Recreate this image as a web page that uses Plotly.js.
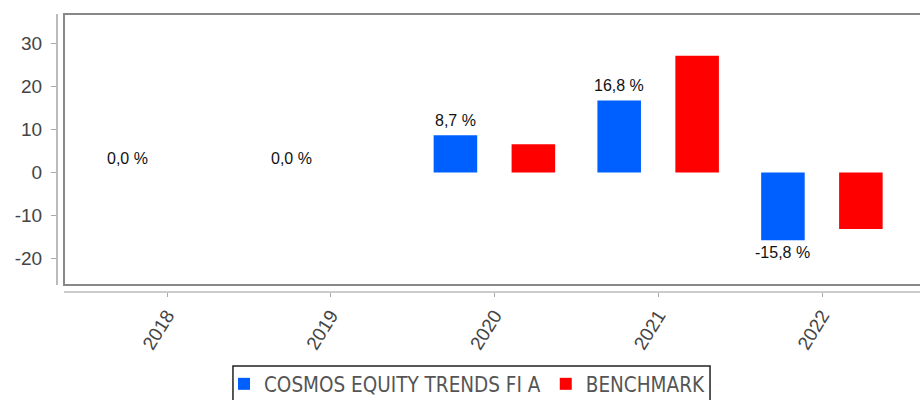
<!DOCTYPE html>
<html><head><meta charset="utf-8">
<script src="https://cdn.plot.ly/plotly-3.0.1.min.js"></script>
<style>html,body{margin:0;padding:0;background:#fff}#chart{width:920px;height:400px}</style>
</head><body><div id="chart"></div>
<script>
const years = ['2018', '2019', '2020', '2021', '2022'];
const fundValues = [0.0, 0.0, 8.7, 16.8, -15.8];
const benchmarkValues = [null, null, 6.6, 27.2, -13.2];
const fundName = 'COSMOS EQUITY TRENDS FI A';
const benchmarkName = 'BENCHMARK';
const yTickVals = [-20, -10, 0, 10, 20, 30];
const yTickText = ['-20', '-10', '0', '10', '20', '30'];

const fmt = v => v.toFixed(1).replace('.', ',') + ' %';
const barWidth = 0.266, fundOffset = -0.372, benchOffset = 0.104;

const traces = [
  {type: 'bar', name: fundName, x: years, y: fundValues,
   marker: {color: '#0060ff'}, width: barWidth, offset: fundOffset},
  {type: 'bar', name: benchmarkName, x: years, y: benchmarkValues,
   marker: {color: '#ff0000'}, width: barWidth, offset: benchOffset}
];

const labelFont = {family: 'Liberation Sans, Arial, sans-serif', size: 16, color: '#111'};
const annotations = fundValues.map((v, i) => ({
  x: i + fundOffset + barWidth / 2, y: v, xref: 'x', yref: 'y',
  text: fmt(v), showarrow: false,
  yanchor: v < 0 ? 'top' : 'bottom', yshift: v < 0 ? -2 : 4,
  font: labelFont
}));

const tickFont = {family: 'Liberation Sans, Arial, sans-serif', size: 19, color: '#444'};

const layout = {
  width: 920, height: 400,
  margin: {l: 57, r: 0, t: 14, b: 108, autoexpand: false},
  paper_bgcolor: '#fff', plot_bgcolor: '#fff',
  showlegend: true,
  barmode: 'group',
  xaxis: {type: 'category', range: [-0.672, 4.598], showline: false, showgrid: false, zeroline: false,
          ticks: 'outside', ticklen: 4, tickcolor: '#aaa', tickangle: -58, tickfont: tickFont},
  yaxis: {range: [-27.86, 36.95], showline: false, showgrid: false, zeroline: false,
          tickvals: yTickVals, ticktext: yTickText,
          ticks: 'outside', ticklen: 5, tickcolor: '#aaa', ticklabelstandoff: 5, tickfont: tickFont},
  legend: {orientation: 'h', x: 0.1935, xanchor: 'left', y: -0.259, yanchor: 'top',
           borderwidth: 0, bgcolor: 'rgba(0,0,0,0)',
           font: {family: 'DejaVu Sans Condensed, DejaVu Sans, sans-serif', size: 20.5, color: '#555'}},
  annotations: annotations,
  shapes: [
    {type: 'rect', xref: 'paper', yref: 'paper', x0: 0.0081, x1: 1.01, y0: 0.0252, y1: 1,
     line: {color: '#888', width: 2}, fillcolor: 'rgba(0,0,0,0)', layer: 'above'},
    {type: 'line', xref: 'paper', yref: 'paper', x0: 0, x1: 0, y0: 0.0252, y1: 1,
     line: {color: '#bbb', width: 2}},
    {type: 'line', xref: 'paper', yref: 'paper', x0: 0.0081, x1: 1.01, y0: 0, y1: 0,
     line: {color: '#ccc', width: 2}},
    {type: 'rect', xref: 'paper', yref: 'paper', x0: 0.2039, x1: 0.7567, y0: -0.396, y1: -0.266,
     line: {color: '#222', width: 1.5}, fillcolor: 'rgba(0,0,0,0)'}
  ]
};

Plotly.newPlot('chart', traces, layout, {displayModeBar: false, staticPlot: true});
</script></body></html>
